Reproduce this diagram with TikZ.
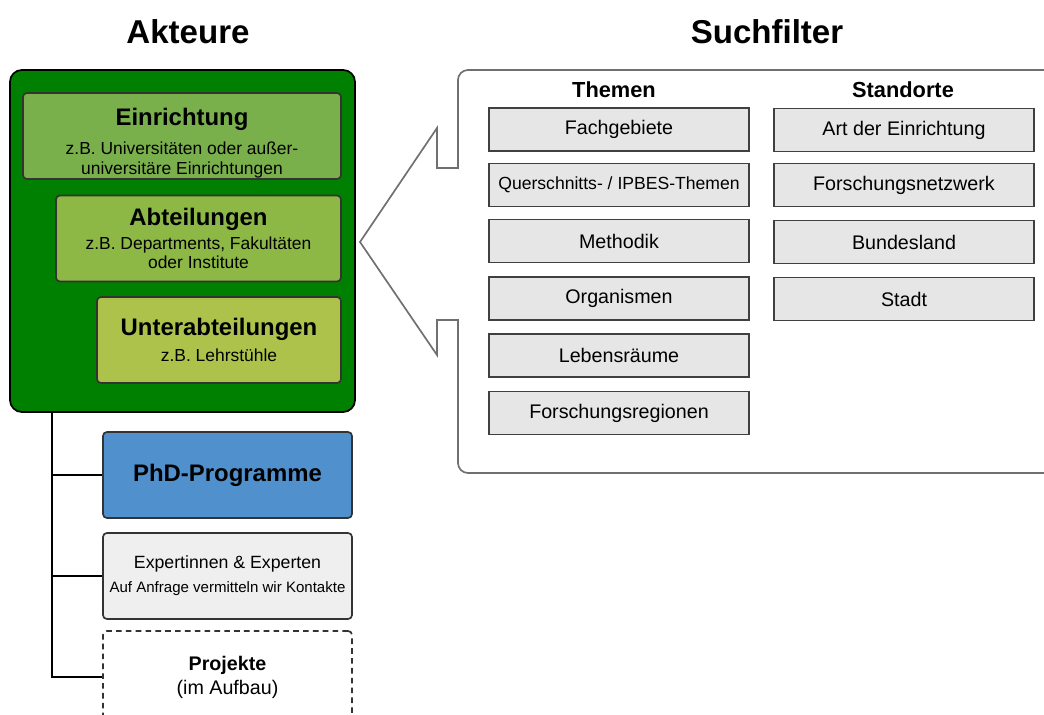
\documentclass[tikz,border=0pt]{standalone}
\usepackage{fontspec}
\setmainfont{Liberation Sans}
\usetikzlibrary{positioning}

\definecolor{akteurgreen}{HTML}{008000}
\definecolor{einrgreen}{HTML}{7AB04C}
\definecolor{abtgreen}{HTML}{8DB846}
\definecolor{untergreen}{HTML}{ADC24A}
\definecolor{phdblue}{HTML}{4F90CD}
\definecolor{expertgray}{HTML}{EFEFEF}
\definecolor{filtergray}{HTML}{E6E6E6}
\definecolor{panelgray}{HTML}{707070}

\tikzset{
  bigtitle/.style = {font=\fontsize{23.5}{28}\selectfont\bfseries},
  colhead/.style = {font=\fontsize{15.5}{18}\selectfont\bfseries},
  akteurbox/.style = {draw=black!80, line width=1.2pt, rounded corners=0.1cm, align=center,
    inner sep=0pt, minimum height=2.15cm, font=\fontsize{12.4}{14}\selectfont},
  filterbox/.style = {draw=black!75, line width=1pt, fill=filtergray, minimum width=6.5cm,
    minimum height=1.075cm, inner sep=0pt, font=\fontsize{14}{16}\selectfont},
}
\newcommand{\boxhead}[1]{{\fontsize{17}{20}\selectfont\bfseries #1}}

\begin{document}
\begin{tikzpicture}[x=0.025cm, y=-0.025cm]
\useasboundingbox (0,0) rectangle (1044,715);

% Titel
\node (akteurtitle) [bigtitle] at (188,32) {Akteure};
\node (filtertitle) [bigtitle] at (767,32) {Suchfilter};

% Akteure
\node (akteure) [draw=black, line width=1.2pt, fill=akteurgreen, rounded corners=0.3cm,
  minimum width=8.625cm, minimum height=8.55cm] at (182.5,241) {};
\node (einr) [akteurbox, fill=einrgreen, minimum width=7.95cm] at (182,136)
  {\rule{0pt}{22pt}\boxhead{Einrichtung}\\[7pt] z.B. Universitäten oder außer-\\ universitäre Einrichtungen};
\node (abt) [akteurbox, fill=abtgreen, minimum width=7.125cm] at (198.5,238.5)
  {\boxhead{Abteilungen}\\[3pt] z.B. Departments, Fakultäten\\ oder Institute};
\node (unter) [akteurbox, fill=untergreen, minimum width=6.1cm] at (219,340)
  {\boxhead{Unterabteilungen}\\[5pt] z.B. Lehrstühle};

\node (phd) [akteurbox, fill=phdblue, minimum width=6.225cm] at (227.5,475)
  {\boxhead{PhD-Programme}};
\node (expert) [akteurbox, fill=expertgray, minimum width=6.225cm] at (227.5,576)
  {{\fontsize{12.6}{14}\selectfont Expertinnen \& Experten}\\[3pt]
   {\fontsize{10.7}{12}\selectfont Auf Anfrage vermitteln wir Kontakte}};
\node (proj) [akteurbox, fill=white, dashed, dash pattern=on 4pt off 3pt, minimum width=6.225cm,
  minimum height=2.3cm, font=\fontsize{14}{17}\selectfont] at (227.5,677)
  {\textbf{Projekte}\\ (im Aufbau)};

\coordinate (trunk) at (52,412);
\draw [line width=1pt] (trunk) |- (phd.west);
\draw [line width=1pt] (trunk) |- (expert.west);
\draw [line width=1pt] (trunk) |- (proj.west);

% Suchfilter-Rahmen
\draw [panelgray, line width=1.2pt] (1050,70) -- (468,70) arc [start angle=90, end angle=180, radius=0.25cm]
  -- (458,168) -- (437,168) -- (437,128) -- (360,242) -- (437,355) -- (437,320) -- (458,320)
  -- (458,463) arc [start angle=180, end angle=270, radius=0.25cm] -- (1050,473);

\node (themen) [colhead] at (614,90) {Themen};
\node (standorte) [colhead] at (903,90) {Standorte};

\node (fach) [filterbox] at (619,129.5) {Fachgebiete};
\node (quer) [filterbox, font=\fontsize{12.5}{14}\selectfont] at (619,185) {Querschnitts- / IPBES-Themen};
\node (meth) [filterbox] at (619,241) {Methodik};
\node (orga) [filterbox] at (619,298.5) {Organismen};
\node (leben) [filterbox] at (619,355.5) {Lebensräume};
\node (region) [filterbox] at (619,413) {Forschungsregionen};

\node (art) [filterbox] at (904,130) {Art der Einrichtung};
\node (netz) [filterbox] at (904,185) {Forschungsnetzwerk};
\node (land) [filterbox] at (904,242) {Bundesland};
\node (stadt) [filterbox] at (904,299) {Stadt};
\end{tikzpicture}
\end{document}
